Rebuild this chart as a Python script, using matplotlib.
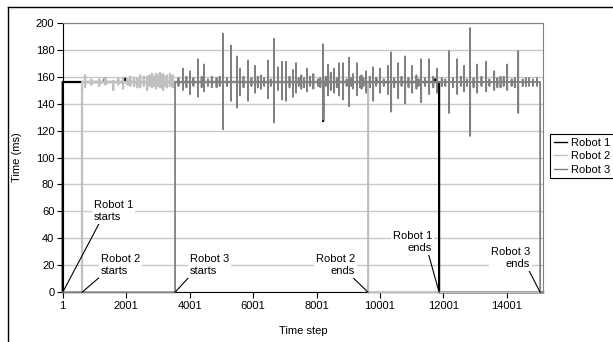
import matplotlib.pyplot as plt
from matplotlib.lines import Line2D

# Excel-like font
plt.rcParams['font.family'] = ['Liberation Sans', 'DejaVu Sans']
plt.rcParams['font.size'] = 8

x_max = 15140
x_ticks = [1, 2001, 4001, 6001, 8001, 10001, 12001, 14001]
y_ticks = list(range(0, 201, 20))

labels = ['Robot 1', 'Robot 2', 'Robot 3']
colors = ['#000000', '#c0c0c0', '#808080']

starts = [1, 610, 3542]
ends = [11865, 9627, 15050]
baselines = [156, 156, 156]

# spikes: step, top value, bottom value
r1_steps = [1330, 1965, 2754, 8208, 9880, 11739]
r1_hi = [158.5, 158.5, 159, 156, 158.5, 158]
r1_lo = [156, 156, 156, 127, 155, 156]

r2_steps = [704, 900, 1150, 1350, 1590, 1750, 1902, 2050, 2130, 2250, 2350, 2441, 2560,
            2660, 2740, 2817, 2880, 2943, 3010, 3069, 3120, 3165, 3230, 3290, 3385, 3470]
r2_hi = [161, 158, 158, 159, 157, 159, 159, 158, 160, 159, 159, 161, 160,
         160, 161, 162, 160, 162, 161, 163, 161, 162, 160, 161, 162, 161]
r2_lo = [152, 154, 153, 154, 150, 154, 151, 154, 153, 153, 152, 152, 153,
         150, 153, 152, 153, 151, 153, 152, 152, 150, 153, 152, 153, 152]

r3_steps = [3793, 4014, 4266, 4455, 4700, 5054, 5306, 5496, 5590, 5843, 6063, 6250, 6473,
            6663, 6789, 6915, 7041, 7262, 7356, 7520, 7703, 7900, 8208, 8365, 8450, 8555,
            8712, 8839, 9028, 9150, 9280, 9420, 9564, 9785, 10005, 10257, 10352, 10573,
            10794, 11014, 11150, 11298, 11550, 11802, 12180, 12433, 12653, 12842, 13064,
            13347, 13600, 13800, 14010, 14357, 14700]
r3_hi = [166, 164, 173, 169, 160, 192, 183, 175, 166, 172, 168, 161, 172,
         188, 167, 171, 171, 165, 170, 161, 166, 162, 184, 169, 163, 166,
         170, 170, 174, 162, 170, 161, 164, 167, 166, 168, 178, 170,
         175, 168, 161, 173, 173, 166, 179, 173, 168, 196, 169,
         171, 164, 160, 169, 179, 159]
r3_lo = [150, 147, 145, 149, 152, 121, 142, 137, 146, 142, 148, 151, 144,
         126, 150, 143, 142, 145, 148, 151, 149, 151, 128, 146, 150, 148,
         146, 143, 138, 151, 146, 151, 148, 142, 148, 147, 134, 144,
         140, 148, 151, 141, 147, 148, 133, 147, 149, 116, 148,
         149, 150, 152, 150, 133, 153]

# small ripple of robot 3 around its baseline
r3_small_steps = [3650, 3900, 4120, 4380, 4580, 4850, 4950, 5180, 5700, 5950, 6150, 6350,
                  6560, 7150, 7440, 7610, 7800, 8050, 8120, 8290, 8640, 8950, 9100, 9370,
                  9480, 9680, 9880, 10120, 10450, 10680, 10900, 11220, 11420, 11680, 11950,
                  12060, 12300, 12550, 12740, 12950, 13200, 13450, 13700, 13900, 14150,
                  14250, 14500, 14600, 14820, 14950]
r3_small_hi = [159, 160, 159, 160, 158, 159, 160, 159, 160, 159, 160, 159,
               158, 160, 159, 159, 160, 158, 159, 160, 159, 158, 159, 160,
               159, 160, 159, 158, 159, 160, 159, 158, 159, 160, 159,
               158, 159, 160, 158, 159, 160, 158, 159, 160, 158,
               159, 158, 159, 158, 159]
r3_small_lo = [153, 152, 153, 152, 153, 152, 153, 153, 152, 153, 152, 153,
               153, 152, 153, 152, 153, 153, 152, 153, 152, 153, 153, 152,
               153, 152, 153, 153, 152, 153, 152, 153, 153, 152, 153,
               153, 152, 153, 153, 152, 153, 153, 152, 153, 153,
               152, 153, 153, 153, 153]

spike_steps = [r1_steps, r2_steps, r3_steps + r3_small_steps]
spike_hi = [r1_hi, r2_hi, r3_hi + r3_small_hi]
spike_lo = [r1_lo, r2_lo, r3_lo + r3_small_lo]


def build(start, end, base, steps, hi, lo):
    xs = [1, start, start]
    ys = [0, 0, base]
    for s, h, l in sorted(zip(steps, hi, lo)):
        xs += [s - 1, s, s + 1, s + 2]
        ys += [base, h, l, base]
    xs += [end, end, x_max]
    ys += [base, 0, 0]
    return xs, ys


fig = plt.figure(figsize=(6.13, 3.42), dpi=100)
ax = fig.add_axes([62.7 / 613, 1 - 292.3 / 342, (543 - 62.7) / 613, (292.3 - 22.7) / 342])

widths = [1.6, 1.6, 1.3]
for i in range(3):
    xs, ys = build(starts[i], ends[i], baselines[i], spike_steps[i], spike_hi[i], spike_lo[i])
    ax.plot(xs, ys, color=colors[i], lw=widths[i], label=labels[i], zorder=3, clip_on=False)

ax.set_xlim(1, x_max)
ax.set_ylim(0, 200)
ax.set_xticks(x_ticks)
ax.set_yticks(y_ticks)
ax.tick_params(direction='out', length=4, width=0.8, pad=2, labelsize=8)
ax.grid(axis='y', color='#c8c8c8', lw=1, zorder=0)
ax.set_axisbelow(True)
for side in ['top', 'right']:
    ax.spines[side].set_color('#808080')
for side in ['left', 'bottom']:
    ax.spines[side].set_color('black')

ax.set_ylabel('Time (ms)')
ax.yaxis.set_label_coords((22 - 62.7) / 480.3, 0.5)
ax.set_xlabel('Time step')
ax.xaxis.set_label_coords(0.5, (292.3 - 326) / 269.6)

# annotations: text, text position, alignment, arrow tip, arrow start on text box
notes = [
    ('Robot 1\nstarts', (988, 60.3), 'left', (starts[0], 0), (0.15, 0)),
    ('Robot 2\nstarts', (1209, 20.3), 'left', (starts[1], 0), (0.0, 0)),
    ('Robot 3\nstarts', (4015, 20.3), 'left', (starts[2], 0), (0.0, 0)),
    ('Robot 2\nends', (9217, 20.3), 'right', (ends[1], 0), (0.9, 0)),
    ('Robot 1\nends', (11645, 37.3), 'right', (ends[0], 0), (0.9, 0)),
    ('Robot 3\nends', (14735, 25.4), 'right', (ends[2], 0), (0.95, 0)),
]
for text, pos, ha, tip, rel in notes:
    ax.annotate(text, xy=tip, xytext=pos, ha=ha, va='center', multialignment=ha,
                fontsize=8, linespacing=1.25, zorder=4,
                bbox=dict(boxstyle='square,pad=0.15', fc='white', ec='none'),
                arrowprops=dict(arrowstyle='-', color='black', lw=0.8,
                                shrinkA=0, shrinkB=0, relpos=rel))

handles = [Line2D([], [], color=c, lw=1.0) for c in colors]
leg = ax.legend(handles, labels, loc='upper left',
                bbox_to_anchor=(550 / 613, 1 - 182 / 342, 0.2, 48 / 342),
                bbox_transform=fig.transFigure, mode='expand', borderaxespad=0,
                fancybox=False, edgecolor='black', framealpha=1,
                handlelength=1.2, handletextpad=0.3, labelspacing=0.3, borderpad=0.35)
leg.get_frame().set_linewidth(0.8)

# outer chart area border (cut by the image edge)
fig.add_artist(Line2D([8 / 613, 1], [1 - 7 / 342, 1 - 7 / 342], color='black', lw=1,
                      transform=fig.transFigure))
fig.add_artist(Line2D([8 / 613, 8 / 613], [0, 1 - 7 / 342], color='black', lw=1,
                      transform=fig.transFigure))

fig.savefig('out.png', dpi=100)
